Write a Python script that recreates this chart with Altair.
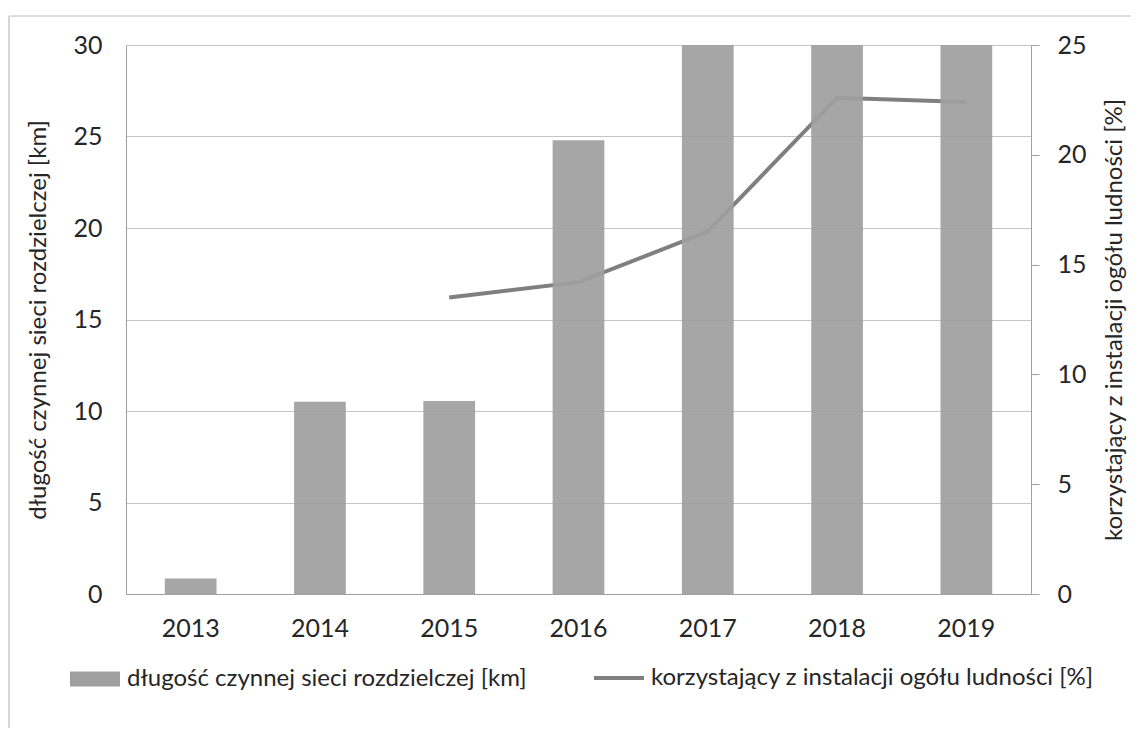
import altair as alt
import pandas as pd

years = ["2013", "2014", "2015", "2016", "2017", "2018", "2019"]
km_values = [0.85, 10.5, 10.55, 24.8, 30, 30, 30]
pct_values = [None, None, 13.5, 14.2, 16.5, 22.6, 22.4]

lab_bar = "długość czynnej sieci rozdzielczej [km]"
lab_line = "korzystający z instalacji ogółu ludności [%]"

df = pd.DataFrame({"year": years, "km": km_values, "pct": pct_values})
df["s_bar"] = lab_bar
df["s_line"] = lab_line
frame_df = pd.DataFrame({"k": [0]})

FONT = "Lato"
TXT = "#262626"
AX = "#a0a0a0"
GRID = "#c4c4c4"
BAR = "#9f9f9f"
LINE = "#7f7f7f"

rect_path = "M-1,-0.3H1V0.3H-1Z"

legend_bar = alt.Legend(
    orient="none", legendX=-56, legendY=609, title=None,
    symbolSize=2500, symbolType=rect_path, symbolStrokeWidth=0, symbolOpacity=1,
    labelFont=FONT, labelFontSize=24, labelColor=TXT, labelOffset=7, padding=0,
    labelLimit=0,
)
legend_line = alt.Legend(
    orient="none", legendX=466, legendY=606, title=None,
    symbolSize=2500, symbolType="stroke", symbolStrokeWidth=4, symbolOpacity=1,
    labelFont=FONT, labelFontSize=24, labelColor=TXT, labelOffset=5, padding=0,
    labelLimit=0,
)

x_enc = alt.X(
    "year:O",
    scale=alt.Scale(paddingInner=0.6, paddingOuter=0.3),
    axis=alt.Axis(title=None, labelAngle=0, labelFont=FONT, labelFontSize=25,
                  labelColor=TXT, labelPadding=22, ticks=False, domainColor=AX,
                  grid=False),
)

bars = alt.Chart(df).mark_bar(opacity=0.93).encode(
    x=x_enc,
    y=alt.Y("km:Q", scale=alt.Scale(domain=[0, 30], nice=False),
            axis=alt.Axis(title=lab_bar, values=[0, 5, 10, 15, 20, 25, 30],
                          grid=True, gridColor=GRID, ticks=False, domainColor=AX,
                          labelFont=FONT, labelFontSize=25, labelColor=TXT,
                          labelPadding=24, titleFont=FONT, titleFontSize=24,
                          titleFontWeight="normal", titleColor=TXT, titlePadding=22)),
    fill=alt.Fill("s_bar:N", scale=alt.Scale(domain=[lab_bar], range=[BAR]),
                  legend=legend_bar),
)

line = alt.Chart(df).mark_line(strokeWidth=4).encode(
    x=x_enc,
    y=alt.Y("pct:Q", scale=alt.Scale(domain=[0, 25], nice=False),
            axis=alt.Axis(orient="right", title=lab_line, values=[0, 5, 10, 15, 20, 25],
                          grid=False, ticks=True, tickSize=8, tickColor=AX,
                          domainColor=AX, labelFont=FONT, labelFontSize=25,
                          labelColor=TXT, labelPadding=18, titleFont=FONT,
                          titleFontSize=24, titleFontWeight="normal", titleColor=TXT,
                          titlePadding=16, titleAngle=270, titleBaseline="top")),
    stroke=alt.Stroke("s_line:N", scale=alt.Scale(domain=[lab_line], range=[LINE]),
                      legend=legend_line),
)

frame_left = alt.Chart(frame_df).mark_rule(color="#c8c8c8", strokeWidth=1.5).encode(
    x=alt.value(-117), y=alt.value(-29), y2=alt.value(693)
)
frame_top = alt.Chart(frame_df).mark_rule(color="#d4d4d4", strokeWidth=1.5).encode(
    x=alt.value(-117), x2=alt.value(1010), y=alt.value(-29)
)

chart = alt.layer(line, bars, frame_left, frame_top).resolve_scale(
    y="independent"
).properties(
    width=905, height=549,
    autosize=alt.AutoSizeParams(type="none"),
    padding={"left": 118, "top": 37, "right": 100, "bottom": 134},
).configure_view(stroke=None).configure(background="white")

chart.save("out.html", embed_options={"renderer": "svg", "actions": False})
